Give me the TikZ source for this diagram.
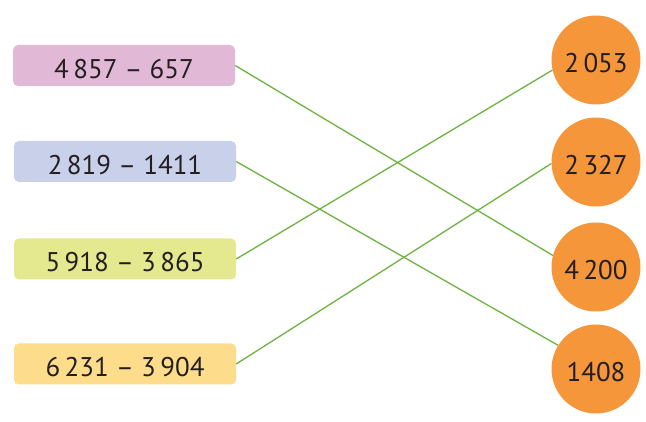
\documentclass[tikz,border=0pt]{standalone}
\usepackage{fontspec}
\setmainfont{PT Sans}
\definecolor{cpink}{HTML}{E1B9D7}
\definecolor{cblue}{HTML}{C9D0EA}
\definecolor{cgreen}{HTML}{E4E88F}
\definecolor{cyell}{HTML}{FDDC8B}
\definecolor{corange}{HTML}{F5963B}
\definecolor{cline}{HTML}{6DB33F}
\definecolor{ctext}{HTML}{231F20}
\begin{document}
\begin{tikzpicture}[x=1pt,y=-1pt,
  exprbox/.style={rectangle,rounded corners=5pt,minimum width=222pt,minimum height=41pt,inner sep=0pt,text height=26pt,text depth=0pt,font=\fontsize{27}{30}\selectfont,text=ctext},
  ansball/.style={circle,fill=corange,minimum size=89pt,inner sep=0pt,text height=25pt,text depth=0pt,font=\fontsize{27}{30}\selectfont,text=ctext},
  link/.style={draw=cline,line width=1.3pt}]
\useasboundingbox (0,0) rectangle (646,422);
\node[exprbox,fill=cpink] (e1) at (124,65.5) {4\,857 – 657};
\node[exprbox,fill=cblue] (e2) at (125,161.5) {2\,819 – 1411};
\node[exprbox,fill=cgreen] (e3) at (125,259) {5\,918 – 3\,865};
\node[exprbox,fill=cyell] (e4) at (125,364) {6\,231 – 3\,904};
\node[ansball] (a1) at (596,60) {2\,053};
\node[ansball] (a2) at (596,162) {2\,327};
\node[ansball] (a3) at (596,267) {4\,200};
\node[ansball] (a4) at (596,369) {1408};
\draw[link] (e1.east) -- (a3.165);
\draw[link] (e2.east) -- (a4.148);
\draw[link] (e3.east) -- (a1.193);
\draw[link] (e4.east) -- (a2.182);
\end{tikzpicture}
\end{document}
